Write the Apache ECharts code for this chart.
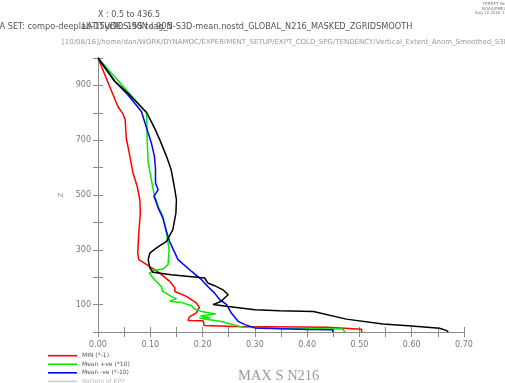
<!DOCTYPE html>
<html><head><meta charset="utf-8">
<script src="https://cdn.jsdelivr.net/npm/echarts@6/dist/echarts.min.js"></script>
<style>html,body{margin:0;padding:0;background:#fff}#c{width:505px;height:383px}</style>
</head><body><div id="c"></div>
<script>
var seriesNames = ['MIN (*-1)', 'Mean +ve (*10)', 'Mean -ve (*-10)', 'Bottom of KPP'];
var seriesColors = ['#ff0000', '#00ee00', '#0000ff', '#cccccc'];
var xTickLabels = ['0.00','0.10','0.20','0.30','0.40','0.50','0.60','0.70'];
var zTickLabels = ['100','300','500','700','900'];

var redX = [0, 0.038, 0.048, 0.052, 0.054, 0.061, 0.067, 0.075, 0.080, 0.081, 0.078, 0.076, 0.078, 0.099, 0.118, 0.137, 0.147, 0.147, 0.169, 0.188, 0.194, 0.188, 0.175, 0.172, 0.201, 0.203, 0.260, 0.437, 0.437, 0.504, 0.504];
var redZ = [1000, 823, 795, 774, 708, 641, 580, 531, 483, 434, 361, 288, 264, 239, 215, 185, 161, 148, 130, 106, 90, 70, 55, 42, 41, 24, 20, 17, 10, 10, 0];

var greenX = [0, 0.093, 0.094, 0.096, 0.102, 0.108, 0.111, 0.115, 0.124, 0.131, 0.136, 0.134, 0.124, 0.108, 0.098, 0.108, 0.121, 0.124, 0.140, 0.150, 0.137, 0.159, 0.179, 0.185, 0.198, 0.225, 0.196, 0.215, 0.194, 0.233, 0.258, 0.277, 0.449, 0.468, 0.472];
var greenZ = [1000, 799, 702, 617, 556, 495, 483, 458, 422, 361, 300, 246, 230, 225, 215, 191, 166, 148, 130, 122, 112, 108, 96, 84, 75, 66, 58, 52, 50, 39, 27, 17, 11, 11, 0];

var blueX = [0, 0.032, 0.057, 0.083, 0.094, 0.102, 0.108, 0.110, 0.110, 0.115, 0.107, 0.112, 0.115, 0.124, 0.131, 0.137, 0.153, 0.179, 0.198, 0.210, 0.223, 0.233, 0.246, 0.255, 0.268, 0.281, 0.300, 0.400, 0.449, 0.449];
var blueZ = [1000, 915, 866, 805, 738, 690, 641, 592, 544, 519, 495, 471, 453, 416, 367, 330, 264, 221, 191, 166, 142, 118, 100, 69, 39, 27, 15, 9, 8, 0];

var blackX = [0, 0.032, 0.057, 0.093, 0.108, 0.118, 0.131, 0.140, 0.147, 0.150, 0.149, 0.143, 0.131, 0.112, 0.099, 0.096, 0.099, 0.105, 0.140, 0.204, 0.210, 0.223, 0.239, 0.249, 0.242, 0.236, 0.220, 0.249, 0.300, 0.347, 0.412, 0.475, 0.545, 0.600, 0.653, 0.666, 0.670];
var blackZ = [1000, 915, 872, 801, 745, 702, 641, 592, 519, 483, 434, 373, 331, 307, 288, 264, 234, 218, 209, 197, 179, 169, 154, 136, 124, 112, 100, 93, 81, 78, 75, 47, 29, 22, 14, 6, 0];

function pairs(xs, zs){ return xs.map(function(x,i){ return [x, zs[i]]; }); }

var axisGray = '#8a8a8a';
var labelGray = '#777';
var chart = echarts.init(document.getElementById('c'), null, {renderer:'canvas'});

function xLabel(v){ var k = Math.round(v*100); return (k % 10 === 0) ? xTickLabels[k/10] : ''; }
function zLabel(v){ var s = String(Math.round(v)); return zTickLabels.indexOf(s) >= 0 ? s : ''; }

var legendGraphics = [];
seriesNames.forEach(function(n, i){
  var y = 355.7 + i * 8.55;
  legendGraphics.push({type:'line', shape:{x1:48, y1:y, x2:77, y2:y}, style:{stroke:seriesColors[i], lineWidth:1.6}, silent:true});
  legendGraphics.push({type:'text', x:82, y:y, style:{text:n, fontSize:6, fill:(i===3?'#bbb':'#555'), fontFamily:'DejaVu Sans', verticalAlign:'middle'}, silent:true});
});

chart.setOption({
  animation:false,
  backgroundColor:'#fff',
  grid:{left:98, right:41, top:58, bottom:51},
  xAxis:[{
    type:'value', min:0, max:0.7, interval:0.05, position:'bottom',
    axisLine:{show:true, lineStyle:{color:axisGray, width:1}},
    axisTick:{show:true, inside:false, length:5, lineStyle:{color:axisGray}},
    axisLabel:{formatter:xLabel, color:labelGray, fontSize:8, fontFamily:'DejaVu Sans', margin:9, showMinLabel:true, showMaxLabel:true},
    splitLine:{show:false}
  },{
    type:'value', min:0, max:0.7, interval:0.05, position:'top',
    axisLine:{show:true, lineStyle:{color:axisGray, width:1}},
    axisTick:{show:true, inside:false, length:5, lineStyle:{color:axisGray}},
    axisLabel:{show:false}, splitLine:{show:false}
  }],
  yAxis:[{
    type:'value', min:0, max:1000, interval:100, position:'left',
    name:'Z', nameLocation:'middle', nameGap:31, nameRotate:90,
    nameTextStyle:{fontSize:7, color:'#999', fontFamily:'DejaVu Sans'},
    axisLine:{show:true, lineStyle:{color:axisGray, width:1}},
    axisTick:{show:true, inside:false, length:5, lineStyle:{color:axisGray}},
    axisLabel:{formatter:zLabel, color:labelGray, fontSize:8, fontFamily:'DejaVu Sans', margin:7},
    splitLine:{show:false}
  },{
    type:'value', min:0, max:1000, interval:100, position:'right',
    axisLine:{show:true, lineStyle:{color:axisGray, width:1}},
    axisTick:{show:true, inside:false, length:5, lineStyle:{color:axisGray}},
    axisLabel:{show:false}, splitLine:{show:false}
  }],
  series:[
    {name:seriesNames[0], type:'line', data:pairs(redX, redZ), showSymbol:false, symbol:'none', color:seriesColors[0], lineStyle:{width:1.5, color:seriesColors[0]}, z:3},
    {name:seriesNames[1], type:'line', data:pairs(greenX, greenZ), showSymbol:false, symbol:'none', color:seriesColors[1], lineStyle:{width:1.5, color:seriesColors[1]}, z:4},
    {name:seriesNames[2], type:'line', data:pairs(blueX, blueZ), showSymbol:false, symbol:'none', color:seriesColors[2], lineStyle:{width:1.5, color:seriesColors[2]}, z:5},
    {name:'black', type:'line', data:pairs(blackX, blackZ), showSymbol:false, symbol:'none', color:'#000', lineStyle:{width:1.5, color:'#000'}, z:6}
  ],
  graphic:[
    {type:'text', left:98, top:11, style:{text:'X : 0.5 to 436.5', fontSize:8, fill:'#555', fontFamily:'DejaVu Sans'}},
    {type:'text', left:-16, top:23, style:{text:'DATA SET: compo-deeplab-15yr90S-90N-lag_5-S3D-mean.nostd_GLOBAL_N216_MASKED_ZGRIDSMOOTH', fontSize:8.2, fill:'#555', fontFamily:'DejaVu Sans'}},
    {type:'text', left:82, top:23, style:{text:'LATITUDE: 15S to 90N', fontSize:8.2, fill:'#555', fontFamily:'DejaVu Sans'}},
    {type:'text', left:62, top:39, style:{text:'[10/08/16]/home/dan/WORK/DYNAMOC/EXPERIMENT_SETUP/EXPT_COLD_SPG/TENDENCY/Vertical_Extent_Anom_Smoothed_S3D', fontSize:7, fill:'#999', fontFamily:'DejaVu Sans'}},
    {type:'text', left:483, top:2, style:{text:'FERRET Ver. 6.1', fontSize:4, fill:'#777', fontFamily:'DejaVu Sans'}},
    {type:'text', left:482, top:6.5, style:{text:'NOAA/PMEL TMAP', fontSize:4, fill:'#777', fontFamily:'DejaVu Sans'}},
    {type:'text', left:475, top:11, style:{text:'Aug 10 2016 15:05:59', fontSize:4, fill:'#777', fontFamily:'DejaVu Sans'}},
    {type:'text', left:238, top:369, style:{text:'MAX S N216', fontSize:14.5, fill:'#999', fontFamily:'Liberation Serif'}}
  ].concat(legendGraphics)
});
</script></body></html>
